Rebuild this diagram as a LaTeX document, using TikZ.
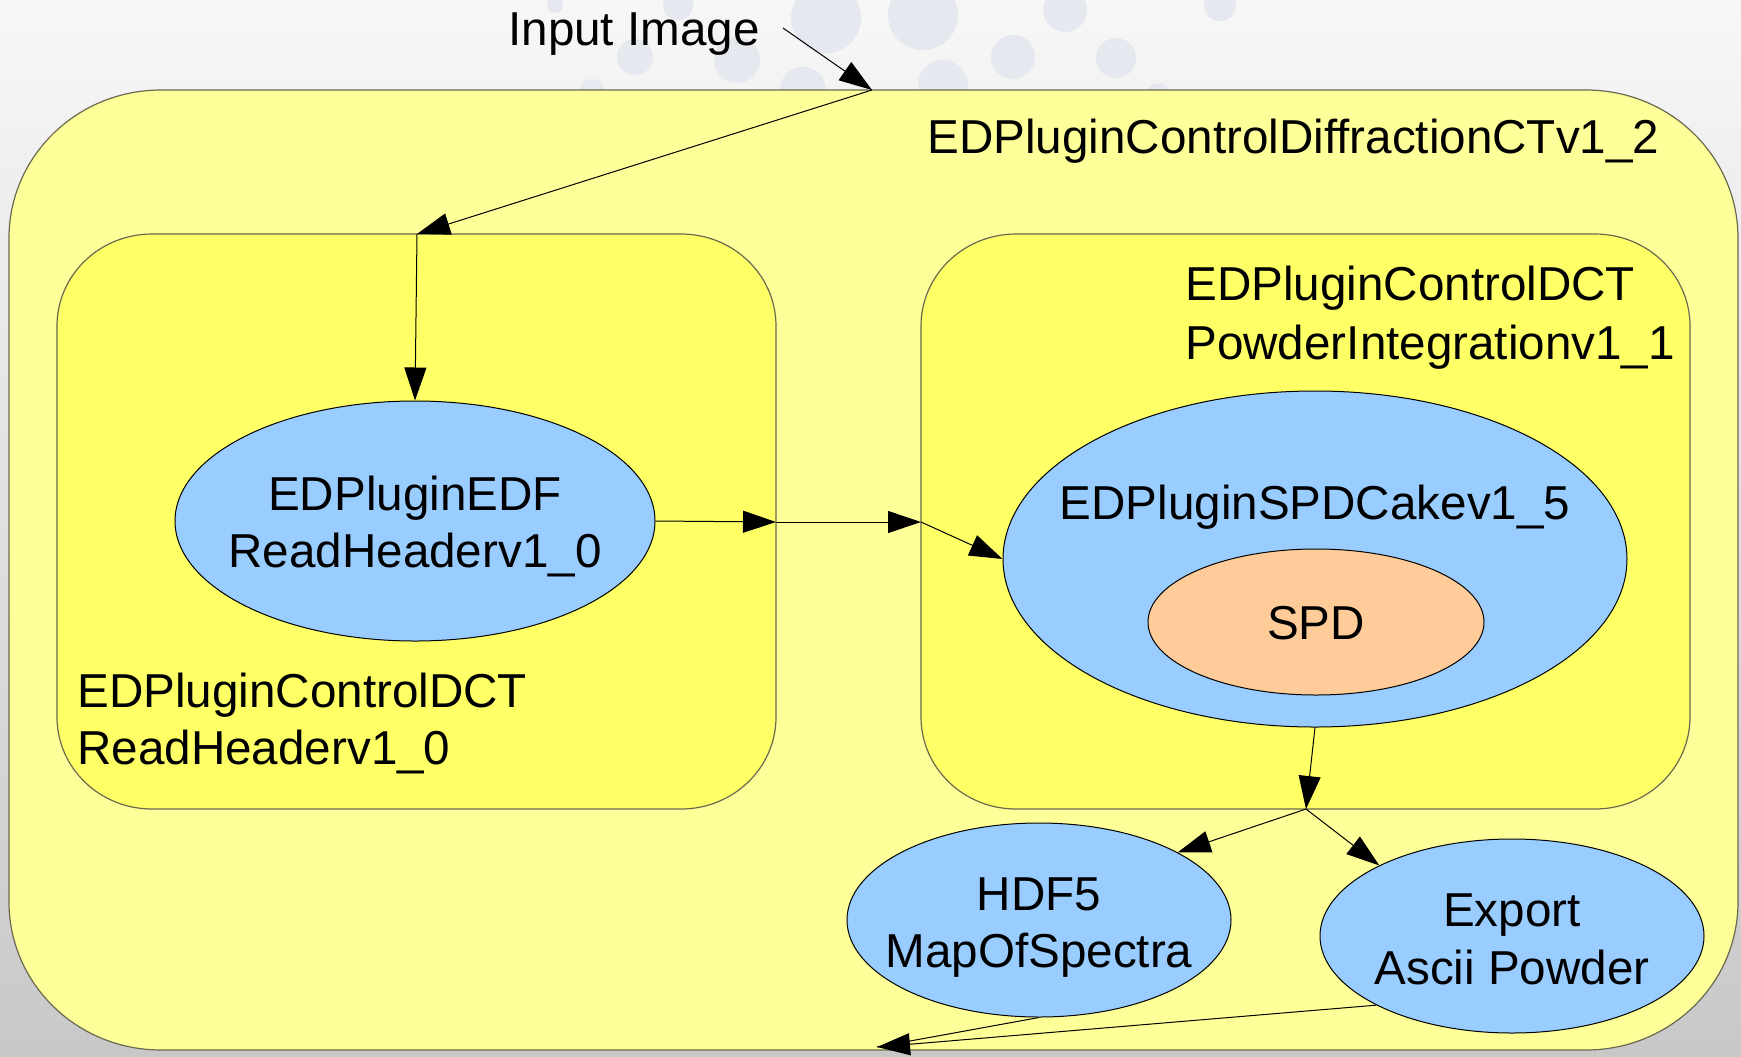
\documentclass[tikz,border=0pt]{standalone}
\usepackage{fontspec}
\setmainfont{Liberation Sans}
\usetikzlibrary{arrows.meta,shapes.geometric}

\definecolor{bgtop}{RGB}{247,247,247}
\definecolor{bgmid}{RGB}{229,229,229}
\definecolor{bgbot}{RGB}{200,200,200}
\definecolor{dotcol}{RGB}{229,232,238}
\definecolor{outerfill}{RGB}{255,255,153}
\definecolor{innerfill}{RGB}{255,255,102}
\definecolor{boxline}{RGB}{105,105,80}
\definecolor{nodeblue}{RGB}{153,204,255}
\definecolor{nodeorange}{RGB}{255,204,153}

\tikzset{
  txt/.style={font=\fontsize{23.8pt}{29.5pt}\selectfont, inner sep=0pt},
  procnode/.style={ellipse, draw=black, line width=0.5pt, fill=nodeblue, inner sep=0pt},
  flow/.style={draw=black, line width=0.5pt, -{Triangle[length=16.5pt,width=11pt]}},
  plainflow/.style={draw=black, line width=0.5pt},
  container/.style={fill=#1, draw=boxline, line width=0.6pt},
  bgdot/.style={fill=dotcol, draw=none},
}

% box with elliptical corners: style, x1, y1, x2, y2, rx, ry
\newcommand\ovalbox[7]{%
  \pgfmathsetmacro\kx{0.5523*#6}\pgfmathsetmacro\ky{0.5523*#7}%
  \path[#1] (#2+#6,#3) -- (#4-#6,#3)
    .. controls (#4-#6+\kx,#3) and (#4,#3+#7-\ky) .. (#4,#3+#7)
    -- (#4,#5-#7)
    .. controls (#4,#5-#7+\ky) and (#4-#6+\kx,#5) .. (#4-#6,#5)
    -- (#2+#6,#5)
    .. controls (#2+#6-\kx,#5) and (#2,#5-#7+\ky) .. (#2,#5-#7)
    -- (#2,#3+#7)
    .. controls (#2,#3+#7-\ky) and (#2+#6-\kx,#3) .. (#2+#6,#3) -- cycle;}

\begin{document}
\begin{tikzpicture}[x=0.5pt, y=-0.5pt]
\useasboundingbox (0,0) rectangle (1741,1056);

% backdrop
\shade[top color=bgtop, middle color=bgmid, bottom color=bgbot] (0,0) rectangle (1741,1056);
\foreach \cx/\cy/\r in {826/18/35, 923/15/35, 1065/10/22, 1220/5/16, 1013/57/22,
    1116/58/20, 635/57/18, 737/60/23, 943/85/25, 803/90/23, 592/92/13,
    1158/95/12, 678/5/15, 555/5/8}
  \fill[bgdot] (\cx,\cy) circle[radius=\r*0.5pt];

% containers
\ovalbox{container=outerfill}{9}{90}{1738}{1050}{152}{148}
\ovalbox{container=innerfill}{57}{234}{776}{809}{95}{92}
\ovalbox{container=innerfill}{921}{234}{1690}{809}{95}{92}

% processing nodes
\node[procnode, minimum width=240pt, minimum height=120pt] (edf) at (415,521) {};
\node[procnode, minimum width=312pt, minimum height=168pt] (cake) at (1315,559) {};
\node[procnode, fill=nodeorange, minimum width=168pt, minimum height=73pt] (spd) at (1316,622) {};
\node[procnode, minimum width=192pt, minimum height=97pt] (hdf) at (1039,920) {};
\node[procnode, minimum width=192pt, minimum height=97pt] (exp) at (1512,936) {};

% texts
\node[txt, anchor=base] (inputLbl) at (634,45) {Input Image};
\node[txt, anchor=base west] (outerLbl) at (927,153) {EDPluginControlDiffractionCTv1\_2};
\node[txt, anchor=base west] (rightLblA) at (1185,300) {EDPluginControlDCT};
\node[txt, anchor=base west] (rightLblB) at (1185,359) {PowderIntegrationv1\_1};
\node[txt, anchor=base west] (leftLblA) at (77,707) {EDPluginControlDCT};
\node[txt, anchor=base west] (leftLblB) at (77,764) {ReadHeaderv1\_0};
\node[txt, anchor=base] (edfLblA) at (415,510) {EDPluginEDF};
\node[txt, anchor=base] (edfLblB) at (415,567) {ReadHeaderv1\_0};
\node[txt, anchor=base] (cakeLbl) at (1315,519) {EDPluginSPDCakev1\_5};
\node[txt, anchor=base] (spdLbl) at (1316,639) {SPD};
\node[txt, anchor=base] (hdfLblA) at (1039,910) {HDF5};
\node[txt, anchor=base] (hdfLblB) at (1039,967) {MapOfSpectra};
\node[txt, anchor=base] (expLblA) at (1512,926) {Export};
\node[txt, anchor=base] (expLblB) at (1512,984) {Ascii Powder};

% port points on container edges
\coordinate (inputTail) at (783,28);
\coordinate (outerIn) at (872,90);
\coordinate (leftIn) at (417,234);
\coordinate (leftOut) at (776,522);
\coordinate (rightIn) at (921,522);
\coordinate (rightOut) at (1306,809);
\coordinate (outerOut) at (877,1047);

% data flow
\draw[flow] (inputTail) -- (outerIn);
\draw[flow] (outerIn) -- (leftIn);
\draw[flow] (leftIn) -- (edf.north);
\draw[flow] (edf.east) -- (leftOut);
\draw[flow] (leftOut) -- (rightIn);
\draw[flow] (rightIn) -- (cake.west);
\draw[flow] (cake.south) -- (rightOut);
\draw[flow] (rightOut) -- (hdf.26);
\draw[flow] (rightOut) -- (exp.152);
\draw[plainflow] (hdf.south) -- (outerOut);
\draw[flow] (exp.207) -- (outerOut);
\end{tikzpicture}
\end{document}
